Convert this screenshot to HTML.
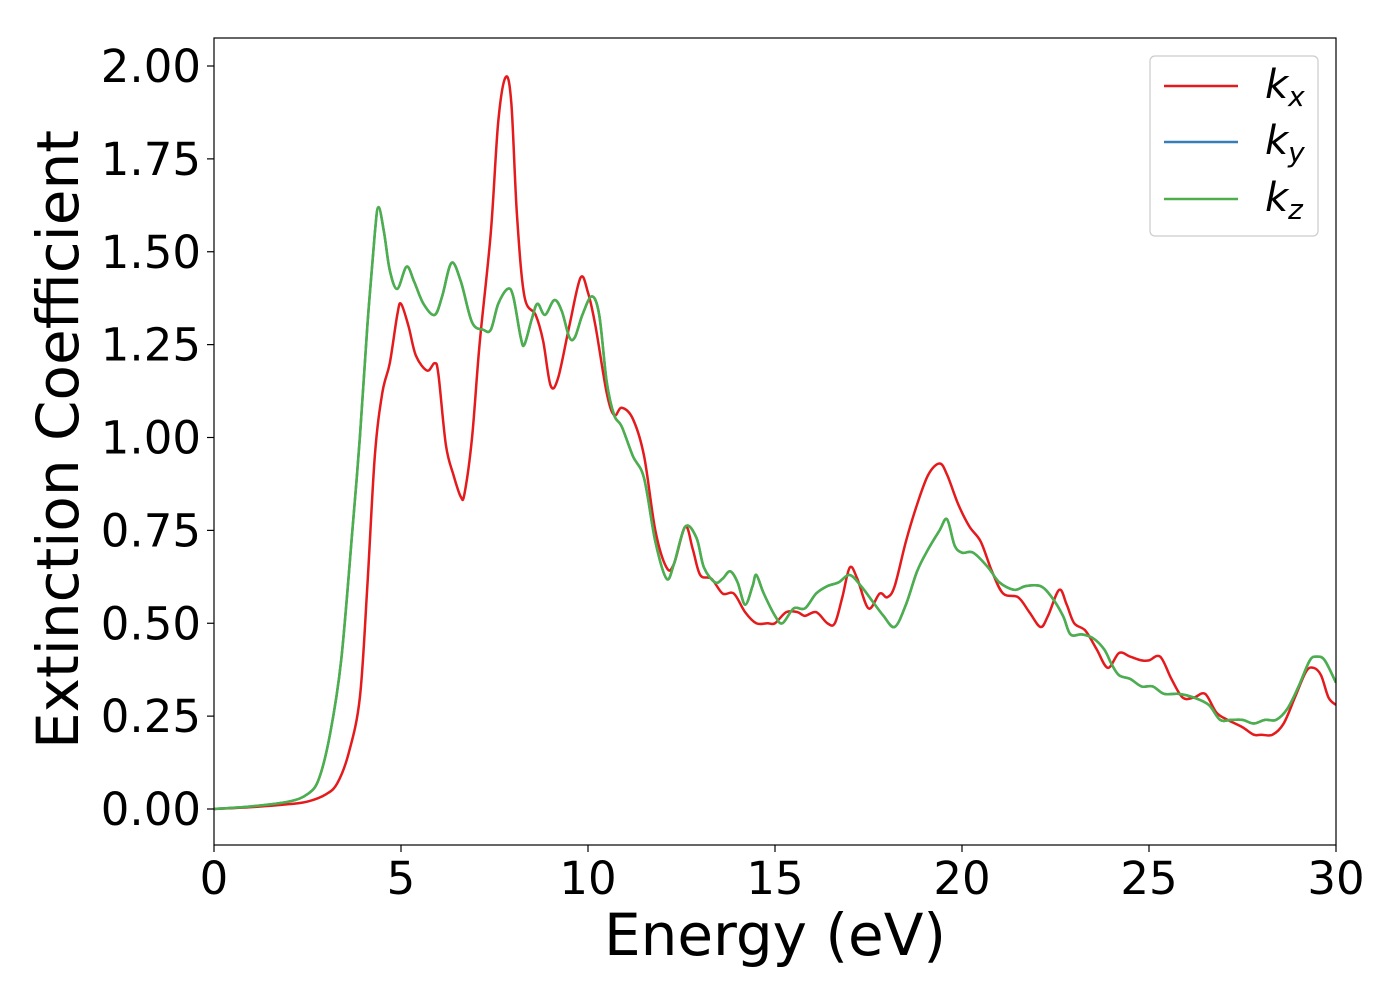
<!DOCTYPE html>
<html><head><meta charset="utf-8"><style>
body{margin:0;background:#fff;}
svg text{font-family:"DejaVu Sans","Liberation Sans",sans-serif;}
</style></head><body>
<svg id="chart" width="1400" height="1000" xmlns="http://www.w3.org/2000/svg"></svg>
<script>
const xTicks=[0,5,10,15,20,25,30];
const yTicks=[0,0.25,0.5,0.75,1.0,1.25,1.5,1.75,2.0];
const kxE=[0,1,2,2.5,3,3.3,3.6,3.9,4.1,4.3,4.5,4.7,4.9,5.0,5.2,5.4,5.7,5.9,6.0,6.2,6.4,6.6,6.7,6.9,7.1,7.4,7.6,7.8,7.95,8.1,8.3,8.6,8.8,9.0,9.2,9.5,9.8,10.0,10.2,10.5,10.7,10.9,11.2,11.5,11.8,12.1,12.3,12.6,12.8,13.0,13.3,13.6,13.9,14.2,14.5,14.8,15.0,15.3,15.6,15.8,16.1,16.4,16.6,16.8,17.0,17.2,17.5,17.8,18.0,18.2,18.5,18.8,19.1,19.4,19.6,19.9,20.2,20.5,20.8,21.1,21.5,21.8,22.1,22.3,22.6,22.8,23.0,23.3,23.6,23.9,24.2,24.5,24.8,25.0,25.3,25.6,25.9,26.2,26.5,26.8,27.1,27.5,27.8,28.0,28.3,28.6,28.9,29.2,29.4,29.6,29.8,30];
const kxV=[0,0.005,0.013,0.02,0.04,0.07,0.15,0.3,0.6,0.95,1.12,1.2,1.33,1.36,1.3,1.22,1.18,1.2,1.17,0.98,0.9,0.84,0.85,1.0,1.25,1.55,1.85,1.97,1.9,1.6,1.38,1.33,1.26,1.14,1.16,1.3,1.43,1.39,1.3,1.12,1.06,1.08,1.05,0.95,0.75,0.65,0.66,0.76,0.7,0.63,0.62,0.58,0.58,0.53,0.5,0.5,0.5,0.53,0.53,0.52,0.53,0.5,0.5,0.57,0.65,0.62,0.54,0.58,0.57,0.6,0.72,0.82,0.9,0.93,0.9,0.82,0.76,0.72,0.64,0.58,0.57,0.53,0.49,0.52,0.59,0.55,0.5,0.48,0.43,0.38,0.42,0.41,0.4,0.4,0.41,0.35,0.3,0.3,0.31,0.26,0.24,0.22,0.2,0.2,0.2,0.23,0.3,0.37,0.38,0.36,0.3,0.28];
const kzE=[0,1,2,2.5,2.8,3.1,3.4,3.7,3.9,4.1,4.3,4.4,4.55,4.7,4.9,5.15,5.35,5.6,5.9,6.1,6.35,6.6,6.9,7.2,7.4,7.6,7.85,8.0,8.2,8.3,8.5,8.65,8.85,9.1,9.3,9.5,9.65,9.85,10.1,10.3,10.5,10.7,10.9,11.2,11.5,11.8,12.1,12.3,12.6,12.9,13.1,13.4,13.6,13.8,14.0,14.2,14.4,14.5,14.7,15.0,15.2,15.5,15.8,16.1,16.4,16.7,17.0,17.3,17.6,17.9,18.2,18.5,18.8,19.1,19.4,19.6,19.8,20.0,20.3,20.7,21.0,21.4,21.7,22.1,22.4,22.7,22.9,23.2,23.5,23.8,24.0,24.2,24.5,24.8,25.1,25.4,25.8,26.2,26.6,26.9,27.2,27.5,27.8,28.1,28.4,28.7,29.0,29.3,29.5,29.7,30];
const kzV=[0,0.007,0.02,0.04,0.08,0.2,0.4,0.75,1.0,1.3,1.55,1.62,1.55,1.45,1.4,1.46,1.42,1.36,1.33,1.38,1.47,1.42,1.31,1.29,1.29,1.36,1.4,1.38,1.27,1.25,1.32,1.36,1.33,1.37,1.34,1.27,1.27,1.33,1.38,1.33,1.15,1.06,1.03,0.95,0.89,0.72,0.62,0.66,0.76,0.73,0.65,0.61,0.62,0.64,0.61,0.55,0.6,0.63,0.58,0.52,0.5,0.54,0.54,0.58,0.6,0.61,0.63,0.6,0.56,0.52,0.49,0.55,0.64,0.7,0.75,0.78,0.71,0.69,0.69,0.65,0.61,0.59,0.6,0.6,0.57,0.52,0.47,0.47,0.46,0.43,0.39,0.36,0.35,0.33,0.33,0.31,0.31,0.3,0.28,0.24,0.24,0.24,0.23,0.24,0.24,0.27,0.33,0.4,0.41,0.4,0.34];
const kyE=kzE.slice();
const kyV=kzV.slice();

const NS="http://www.w3.org/2000/svg";
const svg=document.getElementById('chart');
const L=214,R=1336,T=38,B=845;
const xs=v=>L+(v-0)/(30-0)*(R-L);
const ys=v=>809+(v-0)/(2-0)*(66-809);
function mk(tag,attrs,parent){const e=document.createElementNS(NS,tag);for(const k in attrs)e.setAttribute(k,attrs[k]);(parent||svg).appendChild(e);return e;}

const defs=mk('defs',{});
const cp=mk('clipPath',{id:'clip'},defs);
mk('rect',{x:L,y:T,width:R-L,height:B-T},cp);

function path(E,V){
  const p=E.map((e,i)=>[xs(e),ys(V[i])]);
  let d='M'+p[0][0]+','+p[0][1];
  for(let i=0;i<p.length-1;i++){
    const p0=p[Math.max(0,i-1)],p1=p[i],p2=p[i+1],p3=p[Math.min(p.length-1,i+2)];
    const c1=[p1[0]+(p2[0]-p0[0])/6,p1[1]+(p2[1]-p0[1])/6];
    const c2=[p2[0]-(p3[0]-p1[0])/6,p2[1]-(p3[1]-p1[1])/6];
    d+=`C${c1[0]},${c1[1]} ${c2[0]},${c2[1]} ${p2[0]},${p2[1]}`;
  }
  return d;
}
const g=mk('g',{'clip-path':'url(#clip)'});
const l1=mk('path',{d:path(kxE,kxV),fill:'none',stroke:'#e41a1c','stroke-width':2.5},g);


const l2=mk('path',{d:path(kyE,kyV),fill:'none',stroke:'#377eb8','stroke-width':2.5},g);


const l3=mk('path',{d:path(kzE,kzV),fill:'none',stroke:'#4daf4a','stroke-width':2.5},g);



const frame=mk('rect',{x:L,y:T,width:R-L,height:B-T,fill:'none',stroke:'#000','stroke-width':1.2});



xTicks.forEach(v=>{
  mk('line',{x1:xs(v),x2:xs(v),y1:B,y2:B+7,stroke:'#000','stroke-width':1.2});
  const t=mk('text',{x:xs(v),y:B+49,'text-anchor':'middle','font-size':45});
  t.textContent=v;
  
  
});
yTicks.forEach(v=>{
  mk('line',{x1:L-7,x2:L,y1:ys(v),y2:ys(v),stroke:'#000','stroke-width':1.2});
  const t=mk('text',{x:L-13,y:ys(v)+16,'text-anchor':'end','font-size':45});
  t.textContent=v.toFixed(2);
  
  
});
const xt=mk('text',{x:(L+R)/2,y:955,'text-anchor':'middle','font-size':58});
xt.textContent='Energy (eV)';


const yt=mk('text',{x:0,y:0,'text-anchor':'middle','font-size':58,transform:`translate(78,${(T+B)/2-2}) rotate(-90)`});
yt.textContent='Extinction Coefficient';



const lg=mk('g',{});


mk('rect',{x:1150,y:56,width:168,height:180,rx:5,fill:'#fff',stroke:'#ccc','stroke-width':1.2},lg);
const ents=[['x','#e41a1c',86],['y','#377eb8',142],['z','#4daf4a',199]];
ents.forEach(([s,c,y])=>{
  const e=mk('g',{},lg);
  
  
  mk('line',{x1:1164,x2:1238,y1:y,y2:y,stroke:c,'stroke-width':2.5},e);
  const t=mk('text',{x:1265,y:y+12,'font-size':40,'font-style':'italic'},e);
  t.textContent='k';
  const sb=mk('tspan',{'font-size':28,dy:8},t);
  sb.textContent=s;
});
</script>
</body></html>
